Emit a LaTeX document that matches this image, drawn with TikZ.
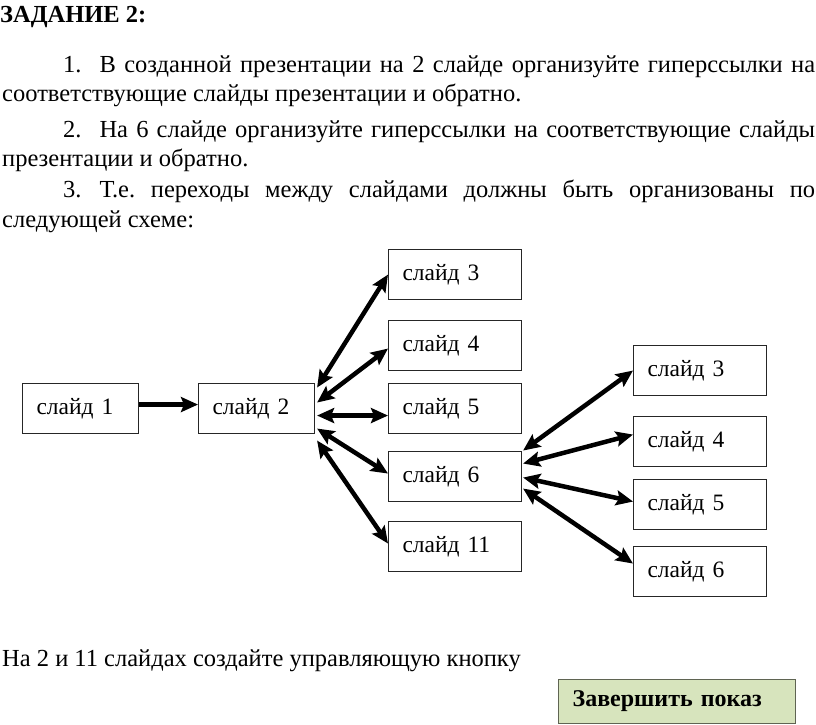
\documentclass[tikz,border=0pt]{standalone}
\usepackage{fontspec}
\setmainfont{Liberation Serif}
\usetikzlibrary{arrows.meta}
\definecolor{btnfill}{HTML}{D7E4BD}
\definecolor{btnline}{HTML}{5F6452}
\frenchspacing

\begin{document}
\begin{tikzpicture}[x=1pt,y=-1pt,
  txt/.style={anchor=base west, inner sep=0pt, font=\fontsize{24.5}{28}\selectfont},
  slide/.style={draw=black!85, line width=1.1pt, anchor=north west, inner xsep=14pt, inner ysep=0pt,
    minimum height=50pt, text width=#1, align=left, font=\fontsize{23.5}{27}\selectfont},
  btn/.style={draw=btnline, fill=btnfill, line width=1.2pt, anchor=north west, inner xsep=14pt, inner ysep=0pt,
    minimum height=44pt, text width=209pt, align=left, font=\fontsize{24}{28}\selectfont\bfseries},
  link/.style={line width=4.5pt, {Stealth[length=17pt,width=15pt,inset=3pt]}-{Stealth[length=17pt,width=15pt,inset=3pt]}},
  go/.style={line width=4.5pt, -{Stealth[length=17pt,width=15pt,inset=3pt]}}]
\useasboundingbox (0,0) rectangle (816,725);

% task text
\node[txt, font=\fontsize{24.5}{28}\selectfont\bfseries] (title) at (0,23) {ЗАДАНИЕ 2:};
\node[txt] (l1) at (63,73) {\makebox[752pt][s]{1.\hspace{18pt}В созданной презентации на 2 слайде организуйте гиперссылки на}};
\node[txt] (l2) at (2,101) {соответствующие слайды презентации и обратно.};
\node[txt] (l3) at (63,137) {\makebox[752pt][s]{2.\hspace{18pt}На 6 слайде организуйте гиперссылки на соответствующие слайды}};
\node[txt] (l4) at (2,166) {презентации и обратно.};
\node[txt] (l5) at (63,197) {\makebox[752pt][s]{3.\hspace{18pt}Т.е. переходы между слайдами должны быть организованы по}};
\node[txt] (l6) at (2,227) {следующей схеме:};

% scheme
\node[slide=88pt] (s1) at (22,383) {слайд 1};
\node[slide=88pt] (s2) at (198,383) {слайд 2};
\node[slide=105pt] (a3) at (388,249) {слайд 3};
\node[slide=105pt] (a4) at (388,320) {слайд 4};
\node[slide=105pt] (a5) at (388,383) {слайд 5};
\node[slide=105pt] (a6) at (388,451) {слайд 6};
\node[slide=105pt] (a11) at (388,521) {слайд 11};
\node[slide=105pt] (b3) at (633,345) {слайд 3};
\node[slide=105pt] (b4) at (633,416) {слайд 4};
\node[slide=105pt] (b5) at (633,479) {слайд 5};
\node[slide=105pt] (b6) at (633,546) {слайд 6};

\draw[go] ([yshift=4pt]s1.east) -- ([yshift=4pt]s2.west);

\draw[link] ([xshift=2pt,yshift=21pt]s2.east) -- (a3.west);
\draw[link] ([xshift=2pt,yshift=6pt]s2.east) -- ([yshift=-3pt]a4.west);
\draw[link] ([xshift=2pt,yshift=-7pt]s2.east) -- ([yshift=-7pt]a5.west);
\draw[link] ([xshift=2pt,yshift=-20pt]s2.east) -- ([yshift=3pt]a6.west);
\draw[link] ([xshift=2pt,yshift=-32pt]s2.east) -- ([yshift=3pt]a11.west);

\draw[link] ([xshift=1pt,yshift=26pt]a6.east) -- (b3.west);
\draw[link] ([xshift=1pt,yshift=13pt]a6.east) -- ([yshift=7pt]b4.west);
\draw[link] ([xshift=1pt,yshift=-1pt]a6.east) -- ([yshift=3pt]b5.west);
\draw[link] ([xshift=1pt,yshift=-12pt]a6.east) -- ([yshift=8pt]b6.west);

\node[txt] (note) at (2,666) {На 2 и 11 слайдах создайте управляющую кнопку};
\node[btn] (stop) at (558,679) {Завершить показ};
\end{tikzpicture}
\end{document}
